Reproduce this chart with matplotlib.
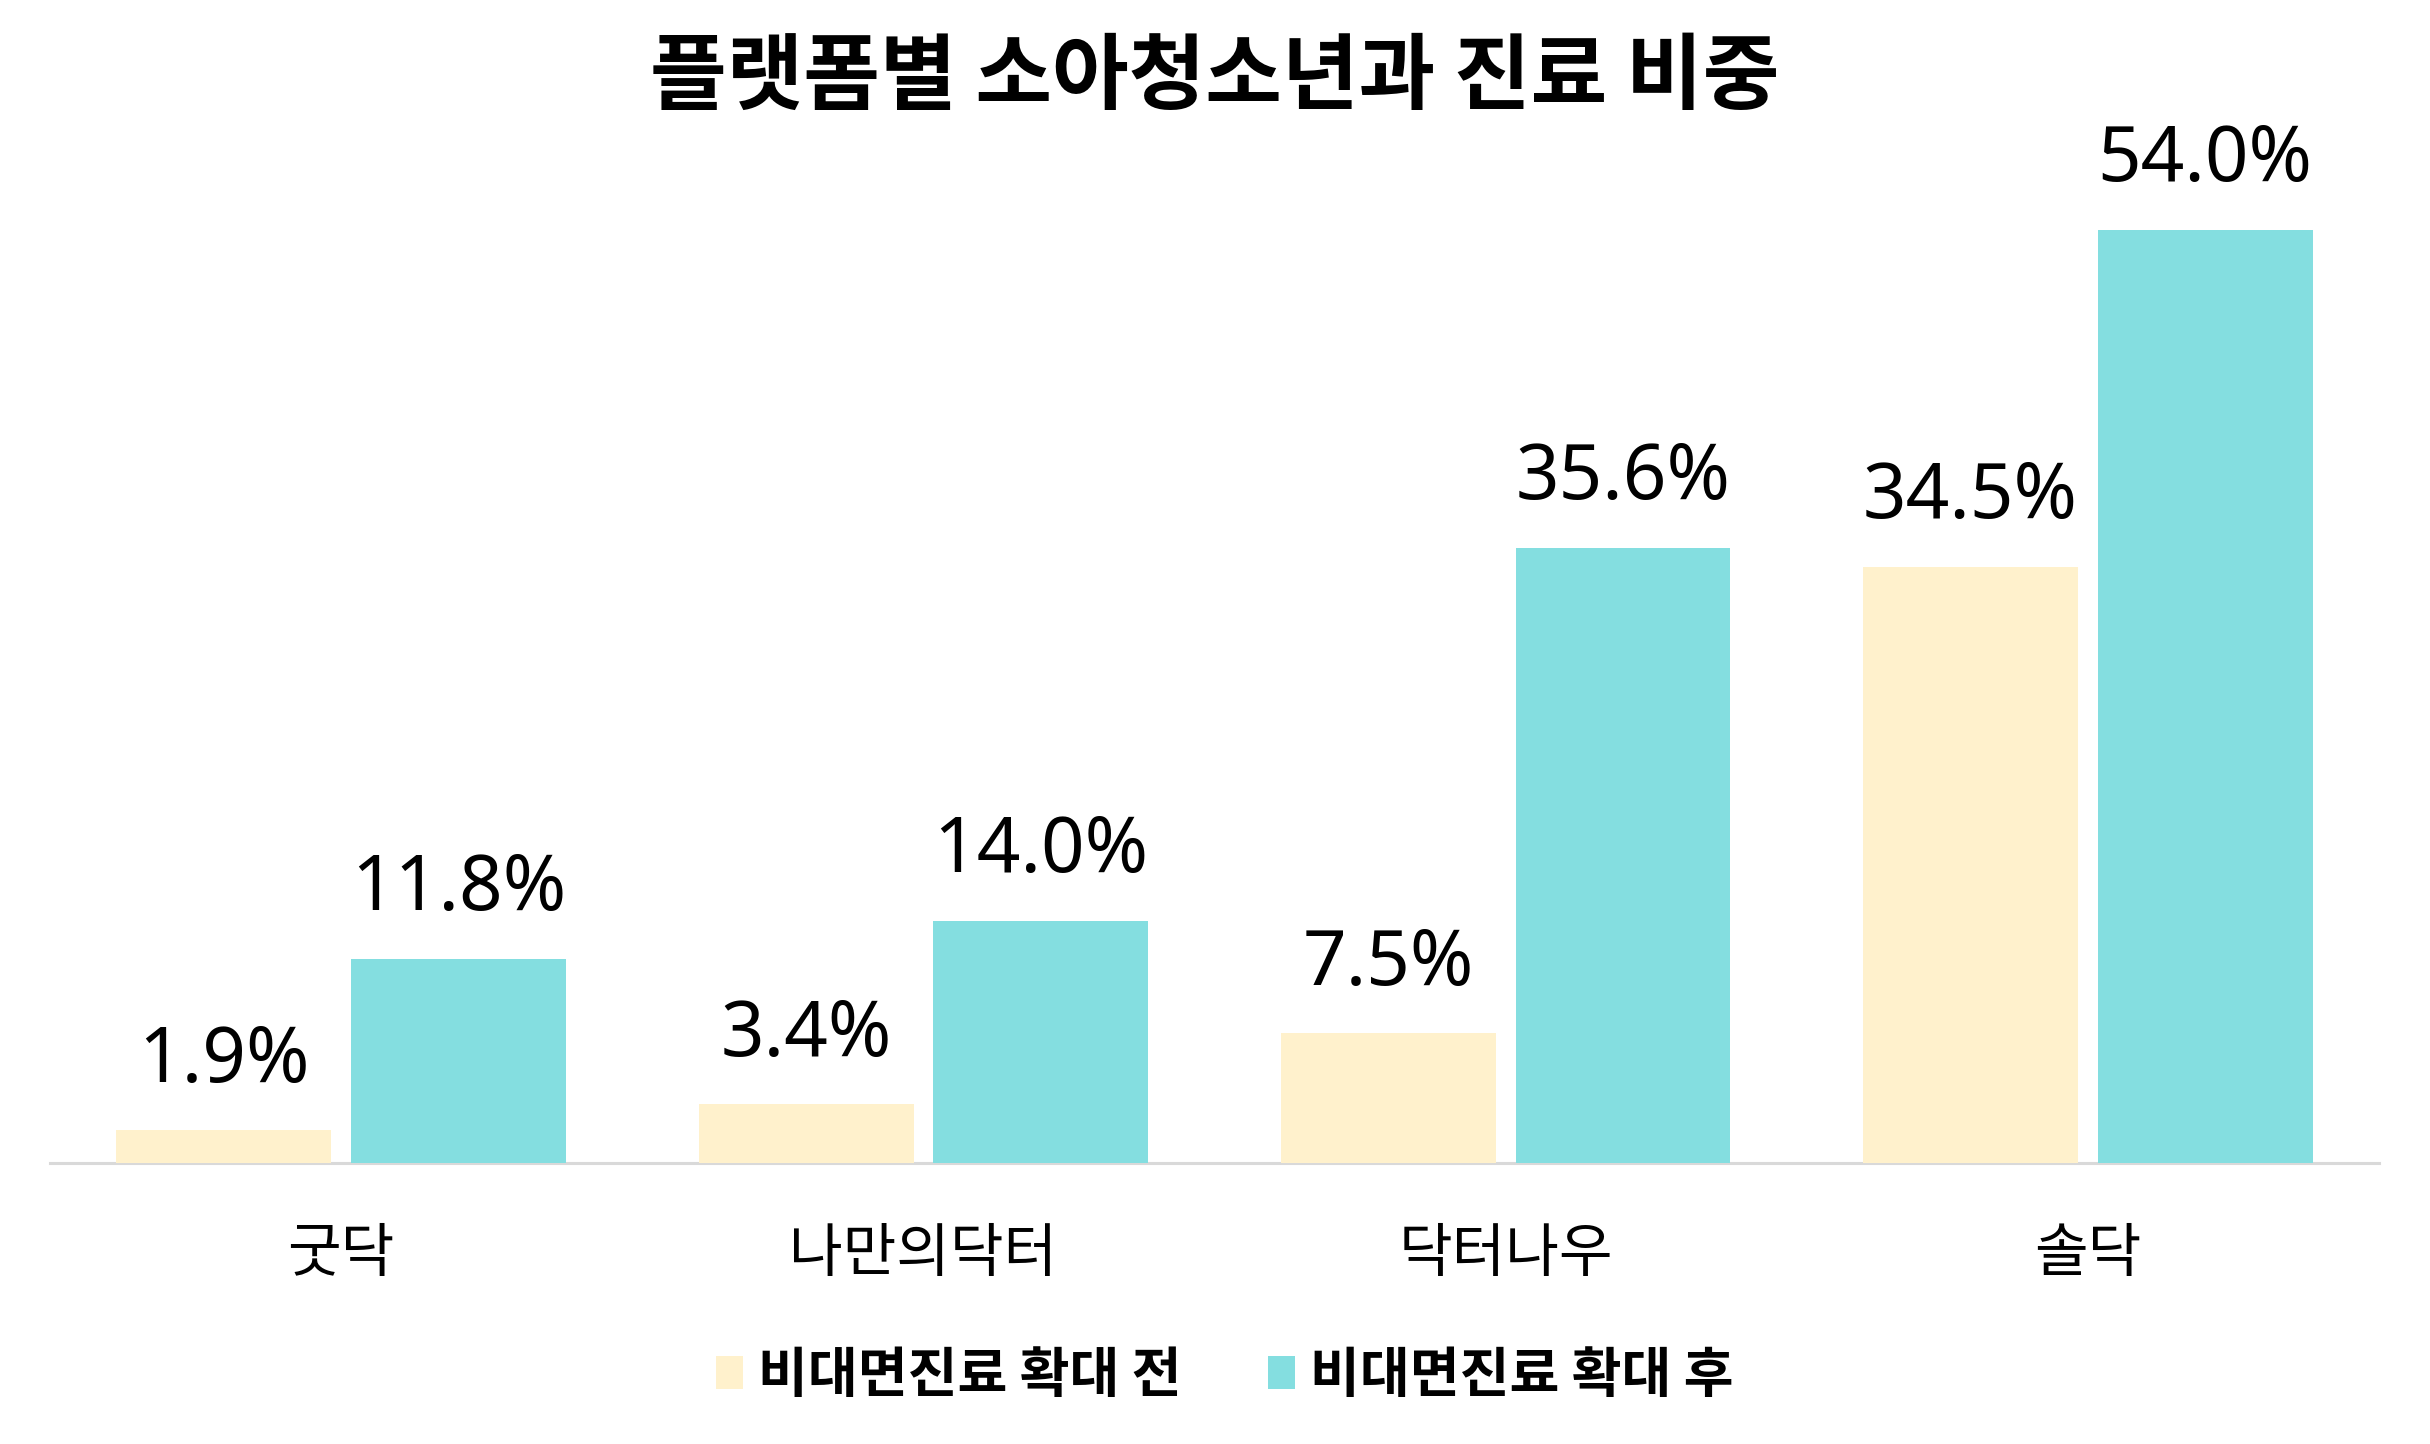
import matplotlib
matplotlib.use("Agg")
import matplotlib.pyplot as plt
import numpy as np

plt.rcParams['font.family'] = ['Noto Sans CJK KR', 'DejaVu Sans']

# data
platforms = ['굿닥', '나만의닥터', '닥터나우', '솔닥']
before = [1.9, 3.4, 7.5, 34.5]
after = [11.8, 14.0, 35.6, 54.0]
series_names = ['비대면진료 확대 전', '비대면진료 확대 후']
colors = ['#FFF1CC', '#84DEE0']

fig = plt.figure(figsize=(24.3, 14.44), dpi=100)
ax = fig.add_axes([0.0206, 0.1946, 0.9584, 0.7181])

x = np.arange(len(platforms))
w = 0.369
off = 0.2015

bars1 = ax.bar(x - off, before, w, color=colors[0], label=series_names[0], zorder=3)
bars2 = ax.bar(x + off, after, w, color=colors[1], label=series_names[1], zorder=3)

# value labels above bars
for bars in (bars1, bars2):
    for b in bars:
        h = b.get_height()
        ax.annotate(f'{h:.1f}%', (b.get_x() + b.get_width() / 2, h),
                    xytext=(0, 35), textcoords='offset points',
                    ha='center', va='baseline', fontsize=55, color='black',
                    family=['Noto Sans', 'DejaVu Sans'])

ax.set_xlim(-0.5, 3.5)
ax.set_ylim(0, 60)
ax.set_xticks(x)
ax.set_xticklabels(platforms, fontsize=42)
ax.tick_params(axis='x', length=0, pad=44)
ax.set_yticks([])
for s in ['top', 'left', 'right']:
    ax.spines[s].set_visible(False)
ax.spines['bottom'].set_color('#D9D9D9')
ax.spines['bottom'].set_linewidth(2.2)

fig.suptitle('플랫폼별 소아청소년과 진료 비중', fontsize=60, fontweight='bold',
             x=0.5, y=0.975, va='top')

fig.legend(loc='center', bbox_to_anchor=(0.504, 0.047), ncol=2, frameon=False,
           prop={'size': 39, 'weight': 'bold'}, handlelength=0.5, handleheight=0.56,
           handletextpad=0.28, columnspacing=1.6)

fig.savefig('out.png', dpi=100, facecolor='white')
